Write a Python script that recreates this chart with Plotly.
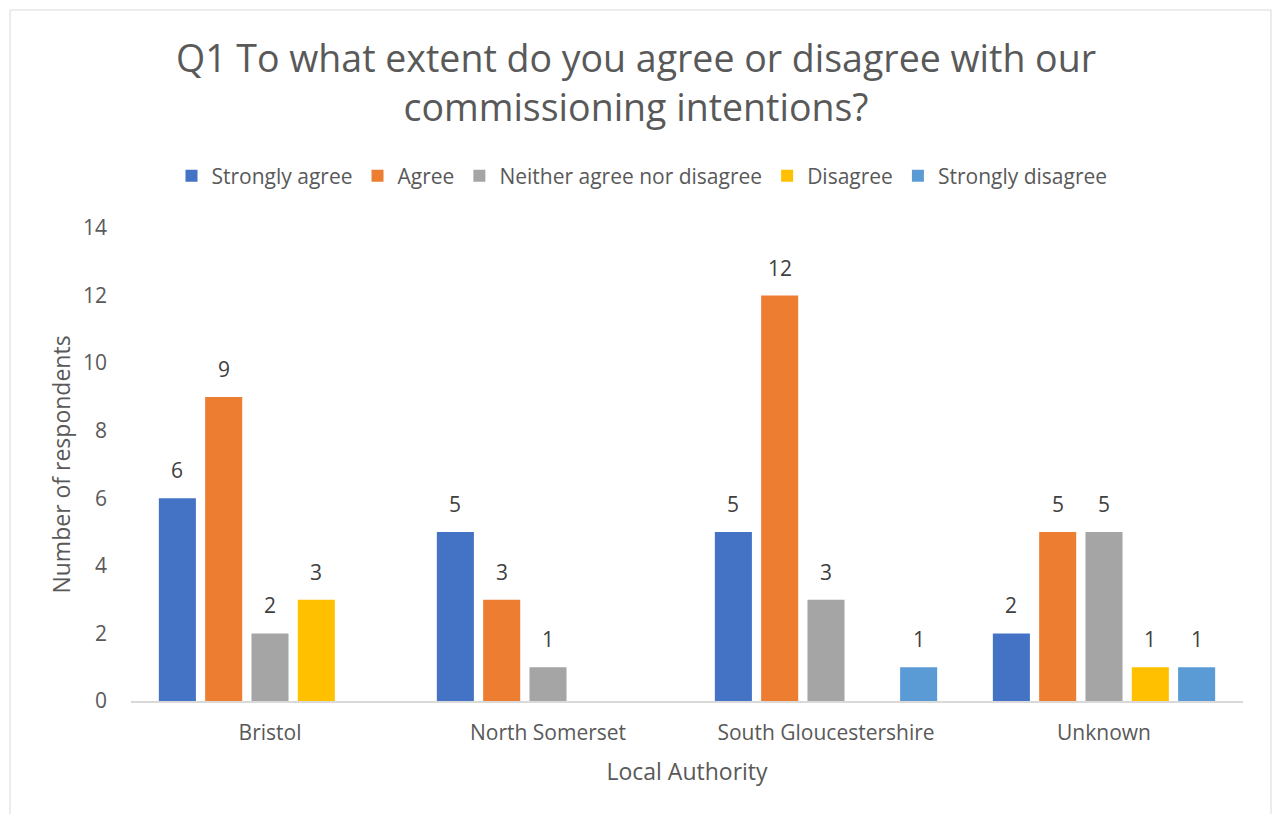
import plotly.graph_objects as go

# Survey results: Q1 responses by local authority
authorities = ["Bristol", "North Somerset", "South Gloucestershire", "Unknown"]
responses = ["Strongly agree", "Agree", "Neither agree nor disagree", "Disagree", "Strongly disagree"]
strongly_agree = [6, 5, 5, 2]
agree = [9, 3, 12, 5]
neither = [2, 1, 3, 5]
disagree = [3, 0, 0, 1]
strongly_disagree = [0, 0, 1, 1]
y_ticks = [0, 2, 4, 6, 8, 10, 12, 14]

series = [strongly_agree, agree, neither, disagree, strongly_disagree]
colors = ["#4472C4", "#ED7D31", "#A5A5A5", "#FFC000", "#5B9BD5"]

FONT = "Open Sans"
TEXT = "#595959"
W, H = 1272, 814
M = dict(l=131, r=29, t=228, b=113)
BARGAP = 0.167
GROUPGAP = 0.2

fig = go.Figure()
for name, vals, col in zip(responses, series, colors):
    fig.add_trace(go.Bar(
        name=name, x=authorities, y=vals, marker_color=col,
        marker_line_width=0,
    ))

# value labels above each non-zero bar, offset to the bar's slot in its group
plot_w = W - M["l"] - M["r"]
plot_h = H - M["t"] - M["b"]
slot = plot_w / len(authorities) * (1 - BARGAP) / len(series)
annotations = []
for i, vals in enumerate(series):
    for cat, v in zip(authorities, vals):
        if v:
            annotations.append(dict(
                x=cat, y=v, xref="x", yref="y", text=str(v), showarrow=False,
                xshift=(i - (len(series) - 1) / 2) * slot, yanchor="bottom", yshift=12,
                font=dict(family=FONT, size=21, color="#404040"),
            ))

fig.update_layout(
    width=W, height=H, margin=M,
    paper_bgcolor="white", plot_bgcolor="white",
    barmode="group", bargap=BARGAP, bargroupgap=GROUPGAP,
    font=dict(family=FONT, size=21, color=TEXT),
    title=dict(
        text="Q1 To what extent do you agree or disagree with our<br>commissioning intentions?",
        x=0.5, xanchor="center", xref="container", y=1 - 72 / H, yanchor="middle",
        font=dict(family=FONT, size=37.5, color=TEXT),
    ),
    legend=dict(
        orientation="h", x=(642 - M["l"]) / plot_w, xanchor="center",
        y=(H - M["b"] - 176) / plot_h, yanchor="middle",
        font=dict(family=FONT, size=21, color=TEXT), traceorder="normal",
    ),
    xaxis=dict(
        showline=True, linecolor="#D9D9D9", linewidth=1.5, ticks="",
        title=dict(text="Local Authority", font=dict(size=23), standoff=19),
        ticklabelstandoff=12, showgrid=False,
    ),
    yaxis=dict(
        range=[0, 14], tickvals=y_ticks, showgrid=False, zeroline=False, showline=False,
        title=dict(text="Number of respondents", font=dict(size=23), standoff=5),
        ticklabelstandoff=23,
    ),
    annotations=annotations,
    shapes=[dict(
        type="rect", xref="paper", yref="paper",
        x0=(10 - M["l"]) / plot_w, x1=(1271 - M["l"]) / plot_w,
        y0=-0.26, y1=(H - M["b"] - 10) / plot_h,
        line=dict(color="#D9D9D9", width=1), fillcolor="rgba(0,0,0,0)", layer="below",
    )],
)

fig.write_html("out.html")
